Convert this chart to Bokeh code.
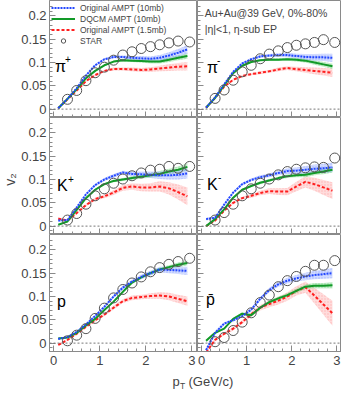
import math
from bokeh.plotting import figure
from bokeh.layouts import column, row
from bokeh.models import (FixedTicker, NumeralTickFormatter, Span, Label,
                          Legend, LegendItem, Range1d, LinearAxis)
from bokeh.embed import file_html
from bokeh.resources import INLINE

FONT = "Liberation Sans"

# ---------------- data ----------------
PT = [0.1, 0.3, 0.5, 0.7, 0.9, 1.1, 1.3, 1.5, 1.7, 1.9, 2.1, 2.3, 2.5, 2.7, 2.9]
STAR_PT = [0.3, 0.5, 0.7, 0.9, 1.1, 1.3, 1.5, 1.7, 1.9, 2.1, 2.3, 2.5, 2.7, 2.95]

# pi+
PIP_ORIG10 = [0.002, 0.022, 0.045, 0.072, 0.094, 0.107, 0.112, 0.112, 0.110, 0.109, 0.108, 0.110, 0.115, 0.121, 0.128]
PIP_ORIG10_ERR = [0.001, 0.001, 0.001, 0.002, 0.002, 0.002, 0.003, 0.003, 0.004, 0.005, 0.005, 0.006, 0.007, 0.008, 0.009]
PIP_DQCM = [0.002, 0.022, 0.043, 0.066, 0.082, 0.094, 0.102, 0.105, 0.104, 0.103, 0.102, 0.102, 0.106, 0.110, 0.114]
PIP_DQCM_ERR = [0.001, 0.001, 0.001, 0.001, 0.002, 0.002, 0.002, 0.003, 0.003, 0.003, 0.004, 0.004, 0.005, 0.005, 0.006]
PIP_ORIG15 = [0.002, 0.021, 0.040, 0.060, 0.073, 0.082, 0.086, 0.086, 0.085, 0.084, 0.085, 0.087, 0.089, 0.091, 0.092]
PIP_ORIG15_ERR = [0.001, 0.001, 0.001, 0.002, 0.002, 0.002, 0.003, 0.003, 0.004, 0.004, 0.005, 0.006, 0.007, 0.008, 0.009]
PIP_STAR = [0.021, 0.040, 0.061, 0.078, 0.090, 0.105, 0.116, 0.123, 0.130, 0.134, 0.138, 0.142, 0.146, 0.144]

# pi-
PIM_ORIG10 = [0.003, 0.025, 0.053, 0.080, 0.098, 0.107, 0.113, 0.115, 0.116, 0.116, 0.114, 0.112, 0.111, 0.111, 0.110]
PIM_ORIG10_ERR = [0.001, 0.001, 0.001, 0.002, 0.002, 0.002, 0.003, 0.003, 0.004, 0.005, 0.005, 0.006, 0.007, 0.008, 0.009]
PIM_DQCM = [0.003, 0.024, 0.051, 0.077, 0.093, 0.101, 0.105, 0.106, 0.106, 0.107, 0.106, 0.104, 0.100, 0.096, 0.092]
PIM_DQCM_ERR = [0.001, 0.001, 0.001, 0.001, 0.002, 0.002, 0.002, 0.003, 0.003, 0.003, 0.004, 0.004, 0.005, 0.005, 0.006]
PIM_ORIG15 = [0.003, 0.024, 0.048, 0.063, 0.071, 0.075, 0.078, 0.081, 0.085, 0.088, 0.086, 0.084, 0.082, 0.080, 0.078]
PIM_ORIG15_ERR = [0.001, 0.001, 0.001, 0.002, 0.002, 0.002, 0.003, 0.003, 0.004, 0.004, 0.005, 0.006, 0.007, 0.008, 0.009]
PIM_STAR = [0.023, 0.041, 0.062, 0.080, 0.094, 0.108, 0.118, 0.125, 0.132, 0.137, 0.140, 0.143, 0.149, 0.143]

# K+
KP_ORIG10 = [0.012, 0.013, 0.040, 0.068, 0.088, 0.100, 0.108, 0.115, 0.112, 0.111, 0.110, 0.109, 0.109, 0.110, 0.113]
KP_ORIG10_ERR = [0.002, 0.002, 0.002, 0.002, 0.003, 0.003, 0.004, 0.004, 0.005, 0.006, 0.007, 0.008, 0.009, 0.010, 0.011]
KP_DQCM = [0.003, 0.010, 0.035, 0.060, 0.078, 0.090, 0.097, 0.100, 0.103, 0.106, 0.109, 0.112, 0.117, 0.121, 0.127]
KP_DQCM_ERR = [0.001, 0.001, 0.001, 0.002, 0.002, 0.002, 0.003, 0.003, 0.004, 0.004, 0.005, 0.006, 0.006, 0.007, 0.008]
KP_ORIG15 = [0.016, 0.012, 0.028, 0.045, 0.058, 0.064, 0.072, 0.082, 0.085, 0.083, 0.083, 0.085, 0.081, 0.073, 0.064]
KP_ORIG15_ERR = [0.003, 0.002, 0.002, 0.003, 0.003, 0.004, 0.005, 0.006, 0.007, 0.008, 0.009, 0.011, 0.013, 0.016, 0.019]
KP_STAR = [0.013, 0.027, 0.047, 0.065, 0.080, 0.092, 0.101, 0.108, 0.114, 0.120, 0.122, 0.128, 0.124, 0.128]

# K-
KM_ORIG10 = [0.015, 0.018, 0.046, 0.072, 0.090, 0.099, 0.105, 0.109, 0.114, 0.118, 0.119, 0.121, 0.123, 0.124, 0.126]
KM_ORIG10_ERR = [0.003, 0.002, 0.002, 0.002, 0.003, 0.003, 0.004, 0.004, 0.005, 0.006, 0.007, 0.008, 0.009, 0.010, 0.010]
KM_DQCM = [0.000, 0.015, 0.036, 0.061, 0.078, 0.086, 0.093, 0.098, 0.103, 0.107, 0.109, 0.110, 0.114, 0.117, 0.121]
KM_DQCM_ERR = [0.001, 0.001, 0.001, 0.002, 0.002, 0.002, 0.003, 0.003, 0.003, 0.004, 0.004, 0.005, 0.005, 0.006, 0.006]
KM_ORIG15 = [0.000, 0.012, 0.033, 0.050, 0.060, 0.065, 0.071, 0.075, 0.074, 0.074, 0.085, 0.095, 0.090, 0.083, 0.076]
KM_ORIG15_ERR = [0.002, 0.002, 0.002, 0.003, 0.003, 0.004, 0.005, 0.006, 0.007, 0.008, 0.010, 0.012, 0.014, 0.016, 0.018]
KM_STAR = [0.013, 0.029, 0.047, 0.065, 0.080, 0.092, 0.101, 0.110, 0.117, 0.122, 0.125, 0.127, 0.126, 0.146]

# p
P_ORIG10 = [0.009, 0.013, 0.024, 0.040, 0.058, 0.078, 0.100, 0.119, 0.132, 0.142, 0.150, 0.158, 0.157, 0.156, 0.155]
P_ORIG10_ERR = [0.002, 0.002, 0.002, 0.002, 0.003, 0.003, 0.003, 0.004, 0.004, 0.005, 0.005, 0.006, 0.007, 0.008, 0.009]
P_DQCM = [0.010, 0.012, 0.022, 0.038, 0.052, 0.071, 0.089, 0.110, 0.130, 0.141, 0.150, 0.158, 0.163, 0.168, 0.172]
P_DQCM_ERR = [0.002, 0.001, 0.001, 0.002, 0.002, 0.002, 0.002, 0.003, 0.003, 0.003, 0.004, 0.004, 0.004, 0.005, 0.005]
P_ORIG15 = [-0.004, 0.007, 0.020, 0.035, 0.049, 0.061, 0.076, 0.090, 0.097, 0.099, 0.101, 0.102, 0.100, 0.095, 0.090]
P_ORIG15_ERR = [0.003, 0.002, 0.002, 0.002, 0.003, 0.003, 0.004, 0.004, 0.005, 0.005, 0.006, 0.007, 0.008, 0.009, 0.010]
P_STAR = [0.005, 0.017, 0.031, 0.053, 0.075, 0.097, 0.115, 0.129, 0.142, 0.153, 0.162, 0.169, 0.175, 0.182]

# pbar
PB_ORIG10 = [-0.015, 0.022, 0.042, 0.049, 0.058, 0.072, 0.095, 0.114, 0.126, 0.134, 0.139, 0.143, 0.146, 0.148, 0.150]
PB_ORIG10_ERR = [0.004, 0.003, 0.003, 0.003, 0.003, 0.004, 0.004, 0.005, 0.005, 0.006, 0.007, 0.008, 0.009, 0.010, 0.011]
PB_DQCM = [0.005, 0.022, 0.031, 0.052, 0.063, 0.060, 0.076, 0.088, 0.096, 0.103, 0.112, 0.121, 0.123, 0.123, 0.124]
PB_DQCM_ERR = [0.003, 0.002, 0.002, 0.002, 0.003, 0.003, 0.003, 0.003, 0.004, 0.004, 0.005, 0.005, 0.006, 0.006, 0.007]
PB_ORIG15 = [-0.020, 0.007, 0.020, 0.031, 0.045, 0.062, 0.076, 0.084, 0.091, 0.100, 0.112, 0.120, 0.102, 0.083, 0.064]
PB_ORIG15_ERR = [0.004, 0.003, 0.003, 0.004, 0.004, 0.005, 0.006, 0.007, 0.008, 0.009, 0.010, 0.012, 0.017, 0.022, 0.027]
PB_STAR = [0.003, 0.012, 0.027, 0.045, 0.065, 0.087, 0.103, 0.121, 0.134, 0.143, 0.154, 0.167, 0.167, 0.177]

SERIES_NAMES = ["Original AMPT (10mb)", "DQCM AMPT (10mb)", "Original AMPT (1.5mb)", "STAR"]
Y_TICKS = [0, 0.05, 0.1, 0.15, 0.2]
Y_MINOR = [-0.01, 0.01, 0.02, 0.03, 0.04, 0.06, 0.07, 0.08, 0.09, 0.11, 0.12, 0.13, 0.14,
           0.16, 0.17, 0.18, 0.19, 0.21, 0.22]
X_TICKS = [0, 1, 2, 3]
X_MINOR = [0.2, 0.4, 0.6, 0.8, 1.2, 1.4, 1.6, 1.8, 2.2, 2.4, 2.6, 2.8]

# ---------------- styles ----------------
XR_LEFT = (-0.09, 3.12)
XR_RIGHT = (-0.09, 3.1)
YR = (-0.018, 0.233)
BLUE, GREEN, RED = "#2347ff", "#129a28", "#ff1e1e"
BLUE_B, GREEN_B, RED_B = "#7f99ff", "#63cf74", "#ff9a9a"
FRAME = "#8a8a8a"

panels = [
    (0, 0, PIP_ORIG10, PIP_ORIG10_ERR, PIP_DQCM, PIP_DQCM_ERR, PIP_ORIG15, PIP_ORIG15_ERR, PIP_STAR, "π", "+", 0.03, 0.092),
    (1, 0, PIM_ORIG10, PIM_ORIG10_ERR, PIM_DQCM, PIM_DQCM_ERR, PIM_ORIG15, PIM_ORIG15_ERR, PIM_STAR, "π", "-", 0.12, 0.090),
    (0, 1, KP_ORIG10, KP_ORIG10_ERR, KP_DQCM, KP_DQCM_ERR, KP_ORIG15, KP_ORIG15_ERR, KP_STAR, "K", "+", 0.07, 0.087),
    (1, 1, KM_ORIG10, KM_ORIG10_ERR, KM_DQCM, KM_DQCM_ERR, KM_ORIG15, KM_ORIG15_ERR, KM_STAR, "K", "-", 0.12, 0.090),
    (0, 2, P_ORIG10, P_ORIG10_ERR, P_DQCM, P_DQCM_ERR, P_ORIG15, P_ORIG15_ERR, P_STAR, "p", "", 0.07, 0.090),
    (1, 2, PB_ORIG10, PB_ORIG10_ERR, PB_DQCM, PB_DQCM_ERR, PB_ORIG15, PB_ORIG15_ERR, PB_STAR, "p\u0304", "", 0.10, 0.094),
]

STRIP_W = 18
LEFT_W = 30
LFRAME_W = 149
RFRAME_W = 144
FRAME_H = 117
BOTTOM_H = 20
XLAB_H = 20


def base_axis_style(ax):
    ax.axis_line_color = FRAME
    ax.major_tick_line_color = FRAME
    ax.minor_tick_line_color = FRAME
    ax.major_tick_out = 0
    ax.minor_tick_out = 0
    ax.major_label_text_font = FONT
    ax.major_label_text_font_size = "13px"


def labelled_axis(ax, major, minor, standoff, fmt=None):
    base_axis_style(ax)
    ax.ticker = FixedTicker(ticks=major, minor_ticks=minor)
    ax.major_tick_in = 6
    ax.minor_tick_in = 3
    ax.major_label_standoff = standoff
    if fmt is not None:
        ax.formatter = fmt


def tick_only_axis(p, ax, major, minor, side):
    # long ticks on the main axis, short ticks on a second axis at the same place
    base_axis_style(ax)
    ax.ticker = FixedTicker(ticks=[], minor_ticks=major)
    ax.minor_tick_in = 6
    ax.major_label_standoff = 0
    extra = LinearAxis()
    base_axis_style(extra)
    extra.ticker = FixedTicker(ticks=[], minor_ticks=minor)
    extra.minor_tick_in = 3
    extra.major_label_standoff = 0
    extra.axis_line_color = None
    p.add_layout(extra, side)


figs = {}
for (c, r, o10, o10e, dq, dqe, o15, o15e, star, base, sup, lx, ly) in panels:
    left = c == 0
    bottom = r == 2
    xr = XR_LEFT if left else XR_RIGHT
    p = figure(width=(LEFT_W + LFRAME_W) if left else RFRAME_W,
               height=FRAME_H + (BOTTOM_H if bottom else 0),
               x_range=Range1d(*xr), y_range=Range1d(*YR),
               output_backend="svg", toolbar_location=None,
               min_border_left=LEFT_W if left else 0, min_border_right=0,
               min_border_top=0, min_border_bottom=BOTTOM_H if bottom else 0)
    p.xgrid.visible = False
    p.ygrid.visible = False
    p.outline_line_color = FRAME
    p.background_fill_color = "white"
    p.border_fill_color = "white"
    if bottom:
        labelled_axis(p.xaxis[0], X_TICKS, X_MINOR, 4)
    else:
        tick_only_axis(p, p.xaxis[0], X_TICKS, X_MINOR, "below")
    if left:
        labelled_axis(p.yaxis[0], Y_TICKS, Y_MINOR, 3, NumeralTickFormatter(format="0.[00]"))
    else:
        tick_only_axis(p, p.yaxis[0], Y_TICKS, Y_MINOR, "left")

    p.add_layout(Span(location=0, dimension="width", line_color="#777777",
                      line_dash="2 2", line_width=1))

    def band(vals, errs, col):
        lo = [v - e for v, e in zip(vals, errs)]
        hi = [v + e for v, e in zip(vals, errs)]
        p.varea(x=PT, y1=lo, y2=hi, fill_color=col, fill_alpha=0.35,
                hatch_pattern="dot", hatch_color=col, hatch_alpha=0.6, hatch_scale=3)

    band(o15, o15e, RED_B)
    band(dq, dqe, GREEN_B)
    band(o10, o10e, BLUE_B)
    r15 = p.line(PT, o15, line_color=RED, line_width=2, line_dash="3 2")
    rdq = p.line(PT, dq, line_color=GREEN, line_width=2)
    r10 = p.line(PT, o10, line_color=BLUE, line_width=2, line_dash="2 1")
    rst = p.scatter(STAR_PT, star, marker="circle", size=10, fill_color=None,
                    line_color="#555555", line_width=1)

    p.add_layout(Label(x=lx, y=ly, text=base, text_font=FONT, text_font_size="16px",
                       text_color="black", text_baseline="alphabetic"))
    if sup:
        p.add_layout(Label(x=lx, y=ly, text=sup, text_font=FONT, text_font_size="10px",
                           text_color="black", x_offset=10 if base == "π" else 11,
                           y_offset=7, text_baseline="alphabetic"))

    if c == 0 and r == 0:
        legend = Legend(items=[LegendItem(label=SERIES_NAMES[0], renderers=[r10]),
                               LegendItem(label=SERIES_NAMES[1], renderers=[rdq]),
                               LegendItem(label=SERIES_NAMES[2], renderers=[r15]),
                               LegendItem(label=SERIES_NAMES[3], renderers=[rst])],
                        location="top_left", background_fill_alpha=0, border_line_alpha=0,
                        label_text_font=FONT, label_text_font_size="8.5px",
                        glyph_width=24, glyph_height=11, label_height=11, spacing=0,
                        padding=2, margin=0, label_standoff=5)
        p.add_layout(legend)
    if c == 1 and r == 0:
        p.add_layout(Label(x=0.07, y=0.218, text="Au+Au@39 GeV, 0%-80%", text_font=FONT,
                           text_font_size="10.5px", text_baseline="top"))
        p.add_layout(Label(x=0.07, y=0.184, text="|η|<1, η-sub EP", text_font=FONT,
                           text_font_size="10.5px", text_baseline="top"))
    figs[(c, r)] = p


def strip(w, h):
    s = figure(width=w, height=h, x_range=Range1d(0, w), y_range=Range1d(0, h),
               output_backend="svg", toolbar_location=None,
               min_border_left=0, min_border_right=0, min_border_top=0, min_border_bottom=0)
    s.axis.visible = False
    s.xgrid.visible = False
    s.ygrid.visible = False
    s.outline_line_color = None
    s.background_fill_color = "white"
    s.border_fill_color = "white"
    return s


# y-axis title strip
YS_H = 3 * FRAME_H + BOTTOM_H
ystrip = strip(STRIP_W, YS_H)
ystrip.add_layout(Label(x=9.5, y=YS_H - 179, text="v\u2082", angle=math.pi / 2,
                        text_font=FONT, text_font_size="14px", text_align="center",
                        text_baseline="middle"))

# x-axis title strip
TOTAL_W = STRIP_W + LEFT_W + LFRAME_W + RFRAME_W
xstrip = strip(TOTAL_W, XLAB_H)
xstrip.add_layout(Label(x=172, y=10, text="p", text_font=FONT, text_font_size="13px",
                        text_baseline="middle"))
xstrip.add_layout(Label(x=179.5, y=6, text="T", text_font=FONT, text_font_size="8.5px",
                        text_baseline="middle"))
xstrip.add_layout(Label(x=188, y=10, text="(GeV/c)", text_font=FONT, text_font_size="13px",
                        text_baseline="middle"))

grid = column(row(figs[(0, 0)], figs[(1, 0)]),
              row(figs[(0, 1)], figs[(1, 1)]),
              row(figs[(0, 2)], figs[(1, 2)]))
layout = column(row(ystrip, grid), xstrip)

open("out.html", "w").write(file_html(layout, INLINE))
